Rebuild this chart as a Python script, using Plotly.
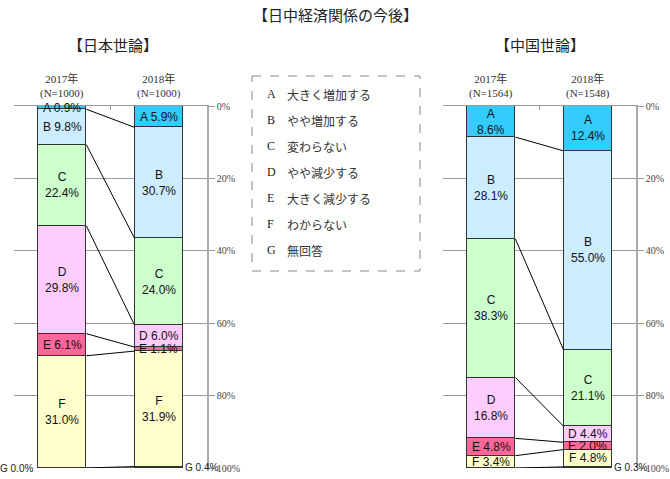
import plotly.graph_objects as go

W, H = 670, 479

# ---------------- data ----------------
CODES = ["A", "B", "C", "D", "E", "F", "G"]
ANSWERS = ["大きく増加する", "やや増加する", "変わらない", "やや減少する",
           "大きく減少する", "わからない", "無回答"]
YEARS = ["2017年", "2018年"]
JP_N = [1000, 1000]
CN_N = [1564, 1548]
JP_2017 = [0.9, 9.8, 22.4, 29.8, 6.1, 31.0, 0.0]
JP_2018 = [5.9, 30.7, 24.0, 6.0, 1.1, 31.9, 0.4]
CN_2017 = [8.6, 28.1, 38.3, 16.8, 4.8, 3.4, 0.1]
CN_2018 = [12.4, 55.0, 21.1, 4.4, 2.0, 4.8, 0.3]
Y_TICKS = [0, 20, 40, 60, 80, 100]

MAIN_TITLE = "【日中経済関係の今後】"
PANEL_TITLES = ["【日本世論】", "【中国世論】"]

# ---------------- style ----------------
COLORS = ["#33CCFF", "#CCECFF", "#CCFFCC", "#FFCCFF", "#FF6699", "#FFFFCC", "#808080"]
SANS = "Liberation Sans, Arial, Noto Sans CJK JP"
SERIF = "Liberation Serif, Times New Roman, Noto Sans CJK JP"
CJK = "Noto Sans CJK JP"
GRID = "#9a9a9a"
BAR_W = 0.5

# which labels are split on two lines (layout choice), per panel/year
TWO_LINE = {
    (0, 0): {"C", "D", "F"},
    (0, 1): {"B", "C", "F"},
    (1, 0): {"A", "B", "C", "D"},
    (1, 1): {"A", "B", "C"},
}


def px_x(p):
    return p / W


def px_y(p):
    return 1 - p / H


PANELS = [
    dict(data=[JP_2017, JP_2018], n=JP_N, xa="x", ya="y", xdom=(14, 207)),
    dict(data=[CN_2017, CN_2018], n=CN_N, xa="x2", ya="y2", xdom=(443, 636)),
]
Y_TOP, Y_BOT = 106, 468

fig = go.Figure()
annotations = []

for pi, P in enumerate(PANELS):
    d17, d18 = P["data"]
    # bars
    for i, code in enumerate(CODES):
        fig.add_trace(go.Bar(
            x=[0, 1], y=[d17[i], d18[i]], width=BAR_W,
            marker=dict(color=COLORS[i], line=dict(color="#333333", width=1)),
            xaxis=P["xa"], yaxis=P["ya"], showlegend=False, hoverinfo="skip",
        ))
    # cumulative boundaries
    cums = []
    for d in (d17, d18):
        c = [0.0]
        for v in d:
            c.append(c[-1] + v)
        cums.append(c)
    # connecting lines
    for i in range(1, len(CODES) + 1):
        fig.add_trace(go.Scatter(
            x=[0 + BAR_W / 2, 1 - BAR_W / 2], y=[cums[0][i], cums[1][i]],
            mode="lines", line=dict(color="#000000", width=1),
            xaxis=P["xa"], yaxis=P["ya"], showlegend=False, hoverinfo="skip",
        ))
    # segment labels
    for yi, d in enumerate((d17, d18)):
        for i, code in enumerate(CODES):
            v = d[i]
            mid = cums[yi][i] + v / 2
            if code == "G":
                annotations.append(dict(
                    x=yi + (-BAR_W / 2 if yi == 0 else BAR_W / 2), y=mid,
                    xref=P["xa"], yref=P["ya"],
                    text=f"G {v:.1f}%", showarrow=False,
                    xanchor="right" if yi == 0 else "left", yanchor="middle",
                    yshift=0, xshift=-3 if yi == 0 else 0,
                    font=dict(family=SANS, size=10, color="#222222"),
                ))
                continue
            sep = "<br>" if code in TWO_LINE[(pi, yi)] else " "
            annotations.append(dict(
                x=yi, y=mid, xref=P["xa"], yref=P["ya"],
                text=f"{code}{sep}{v:.1f}%", showarrow=False,
                xanchor="center", yanchor="middle",
                font=dict(family=SANS, size=12, color="#111111"),
            ))
    # category labels
    for yi, yr in enumerate(YEARS):
        annotations.append(dict(
            x=yi, y=px_y(Y_TOP), xref=P["xa"], yref="paper",
            text=f"{yr}<br>(N={P['n'][yi]})", showarrow=False,
            xanchor="center", yanchor="bottom", yshift=4,
            font=dict(family=SERIF, size=11, color="#333333"),
        ))

# titles
annotations.append(dict(x=0.5, y=px_y(15), xref="paper", yref="paper",
                        text=MAIN_TITLE, showarrow=False, xanchor="center", yanchor="middle",
                        font=dict(family=CJK, size=15, color="#222222")))
for pi, (cx) in enumerate((113, 540)):
    annotations.append(dict(x=px_x(cx), y=px_y(44), xref="paper", yref="paper",
                            text=PANEL_TITLES[pi], showarrow=False,
                            xanchor="center", yanchor="middle",
                            font=dict(family=CJK, size=15, color="#222222")))

# legend box
for i, (code, ans) in enumerate(zip(CODES, ANSWERS)):
    yy = px_y(94 + 26 * i)
    annotations.append(dict(x=px_x(265), y=yy, xref="paper", yref="paper", text=code,
                            showarrow=False, xanchor="left", yanchor="middle",
                            font=dict(family=SERIF, size=12, color="#222222")))
    annotations.append(dict(x=px_x(285), y=yy, xref="paper", yref="paper", text=ans,
                            showarrow=False, xanchor="left", yanchor="middle",
                            font=dict(family=CJK, size=12, color="#333333")))

shapes = [dict(type="rect", xref="paper", yref="paper",
               x0=px_x(252), x1=px_x(420), y0=px_y(76), y1=px_y(271),
               line=dict(color="#888888", width=1, dash="dash"), fillcolor="rgba(0,0,0,0)")]

layout_axes = {}
for pi, P in enumerate(PANELS):
    xk = "xaxis" if pi == 0 else "xaxis2"
    yk = "yaxis" if pi == 0 else "yaxis2"
    layout_axes[xk] = dict(
        domain=[px_x(P["xdom"][0]), px_x(P["xdom"][1])], range=[-0.5, 1.5],
        anchor=P["ya"], side="top", showline=True, linecolor=GRID, linewidth=1,
        ticks="inside", tickvals=[-0.5, 0.5], ticklen=4, tickcolor=GRID,
        showticklabels=False, showgrid=False, zeroline=False, fixedrange=True,
        automargin=False,
    )
    layout_axes[yk] = dict(
        domain=[px_y(Y_BOT), px_y(Y_TOP)], range=[100, 0], anchor=P["xa"],
        side="right", showline=True, linecolor="#aaaaaa", linewidth=1.5,
        ticks="outside", ticklen=6, tickcolor=GRID,
        tickvals=Y_TICKS, ticktext=[f"{v}%" for v in Y_TICKS],
        tickfont=dict(family=SERIF, size=10, color="#444444"),
        showgrid=True, gridcolor=GRID, gridwidth=1, zeroline=False, fixedrange=True,
        automargin=False,
    )

fig.update_layout(
    width=W, height=H,
    margin=dict(l=0, r=0, t=0, b=0, pad=0, autoexpand=False),
    paper_bgcolor="white", plot_bgcolor="rgba(0,0,0,0)",
    barmode="stack", bargap=0, showlegend=False,
    annotations=annotations, shapes=shapes, **layout_axes,
)

fig.write_html(
    "out.html",
    config={"displayModeBar": False},
    post_script="document.body.style.margin='0';document.body.style.overflow='hidden';",
)
